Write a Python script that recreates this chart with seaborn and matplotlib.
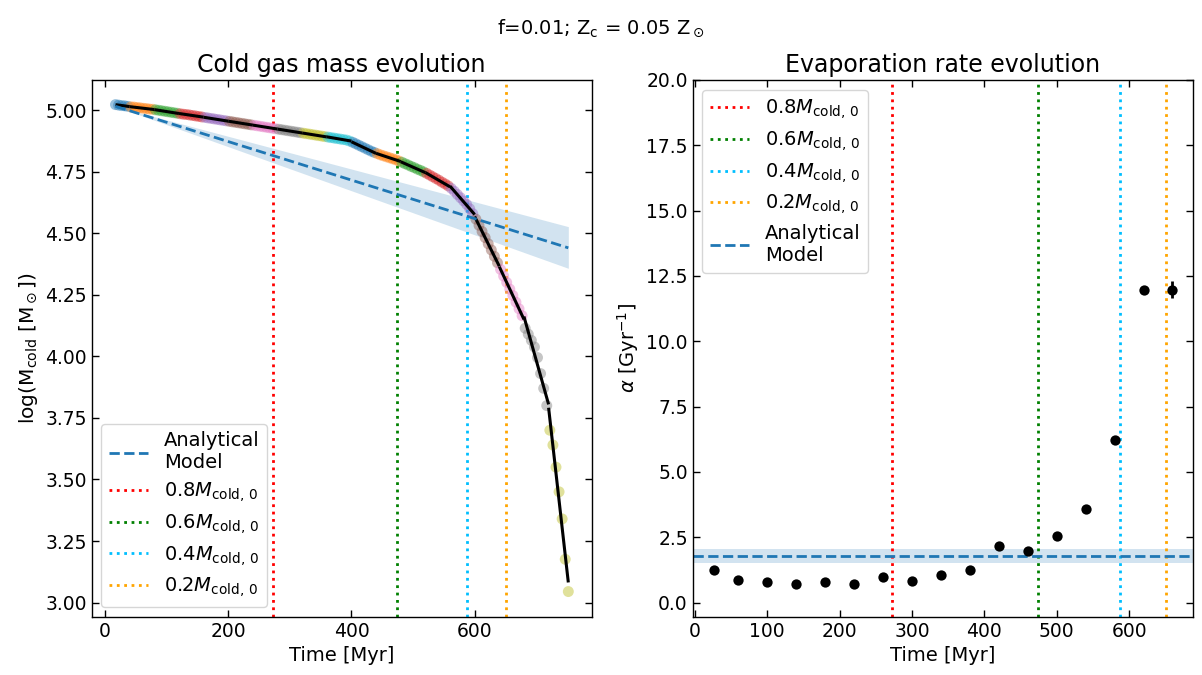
import numpy as np
import pandas as pd
import matplotlib
matplotlib.use("Agg")
import matplotlib.pyplot as plt
import seaborn as sns

# ---------------- data ----------------
time_myr = [17, 22, 27, 32, 37, 42, 47, 52, 57, 62, 67, 72, 77, 82, 87, 92, 97, 102,
            107, 112, 117, 122, 127, 132, 137, 142, 147, 152, 157, 162, 167, 172, 177,
            182, 187, 192, 197, 202, 207, 212, 217, 222, 227, 232, 237, 242, 247, 252,
            257, 262, 267, 272, 277, 282, 287, 292, 297, 302, 307, 312, 317, 322, 327,
            332, 337, 342, 347, 352, 357, 362, 367, 372, 377, 382, 387, 392, 397, 402,
            407, 412, 417, 422, 427, 432, 437, 442, 447, 452, 457, 462, 467, 472, 477,
            482, 487, 492, 497, 502, 507, 512, 517, 522, 527, 532, 537, 542, 547, 552,
            557, 562, 567, 572, 577, 582, 587, 592, 597, 602, 607, 612, 617, 622, 627,
            632, 637, 642, 647, 652, 657, 662, 667, 672, 677, 682, 687, 692, 697, 702,
            707, 712, 717, 722, 727, 732, 737, 742, 747, 752]
log_mcold = [5.022, 5.020, 5.018, 5.017, 5.015, 5.013, 5.012, 5.010, 5.009, 5.007,
             5.006, 5.004, 5.003, 5.001, 4.999, 4.997, 4.995, 4.993, 4.991, 4.989,
             4.987, 4.985, 4.983, 4.982, 4.980, 4.978, 4.976, 4.974, 4.972, 4.970,
             4.968, 4.966, 4.964, 4.962, 4.960, 4.958, 4.956, 4.954, 4.952, 4.950,
             4.948, 4.946, 4.944, 4.942, 4.940, 4.938, 4.936, 4.934, 4.932, 4.930,
             4.928, 4.926, 4.924, 4.922, 4.920, 4.918, 4.916, 4.914, 4.912, 4.910,
             4.908, 4.906, 4.904, 4.902, 4.900, 4.898, 4.896, 4.894, 4.892, 4.890,
             4.888, 4.886, 4.884, 4.882, 4.880, 4.878, 4.874, 4.869, 4.863, 4.857,
             4.851, 4.845, 4.839, 4.833, 4.828, 4.823, 4.818, 4.814, 4.810, 4.806,
             4.802, 4.798, 4.793, 4.788, 4.782, 4.777, 4.771, 4.766, 4.760, 4.755,
             4.749, 4.743, 4.736, 4.729, 4.722, 4.715, 4.707, 4.700, 4.692, 4.682,
             4.670, 4.657, 4.644, 4.631, 4.617, 4.599, 4.579, 4.557, 4.532, 4.507,
             4.482, 4.457, 4.432, 4.406, 4.380, 4.353, 4.326, 4.300, 4.273, 4.247,
             4.220, 4.193, 4.165, 4.114, 4.090, 4.065, 4.038, 3.995, 3.930, 3.870,
             3.800, 3.700, 3.640, 3.550, 3.450, 3.340, 3.176, 3.045]
window_myr = 40

alpha_time = [27, 60, 100, 140, 180, 220, 260, 300, 340, 380, 420, 460, 500, 540,
              580, 620, 660]
alpha_vals = [1.25, 0.88, 0.80, 0.72, 0.79, 0.72, 0.96, 0.82, 1.07, 1.24, 2.15, 1.99,
              2.56, 3.59, 6.23, 11.95, 11.98]
alpha_err = [0.04, 0.03, 0.03, 0.03, 0.03, 0.03, 0.04, 0.03, 0.04, 0.04, 0.05, 0.05,
             0.06, 0.08, 0.16, 0.10, 0.32]

alpha_model = 1.80
alpha_lo = 1.53
alpha_hi = 2.06
logm0_model = 5.015

frac_labels = ["0.8", "0.6", "0.4", "0.2"]
frac_times = [273, 474, 588, 651]
frac_colors = ["red", "green", "deepskyblue", "orange"]

# ---------------- style ----------------
sns.set_theme(style="ticks")
plt.rcParams.update({
    "font.family": ["DejaVu Sans"],
    "font.size": 14,
    "axes.labelsize": 14,
    "axes.titlesize": 17,
    "xtick.labelsize": 13.5,
    "ytick.labelsize": 13.5,
    "legend.fontsize": 14,
    "legend.labelspacing": 0.4,
    "text.color": "black",
    "axes.labelcolor": "black",
    "xtick.color": "black",
    "ytick.color": "black",
    "xtick.direction": "in",
    "ytick.direction": "in",
    "xtick.top": True,
    "ytick.right": True,
    "xtick.major.size": 5,
    "ytick.major.size": 5,
    "xtick.major.width": 1.0,
    "ytick.major.width": 1.0,
    "axes.linewidth": 1.0,
    "axes.edgecolor": "black",
    "mathtext.fontset": "dejavusans",
})

fig, axes = plt.subplots(1, 2, figsize=(12.02, 6.75), dpi=100)
fig.subplots_adjust(left=0.0763, right=0.9923, top=0.8815, bottom=0.0864, wspace=0.202)

tab10 = sns.color_palette("tab10", 10)
ln10 = np.log(10.0)
mlab = r"$M_\mathrm{cold,\,0}$"

# ---------------- left panel ----------------
ax = axes[0]
df = pd.DataFrame({"t": time_myr, "logm": log_mcold})
df["seg"] = (df["t"] // window_myr).astype(int)
pal = {s: tab10[s % 10] for s in df["seg"].unique()}
sns.scatterplot(data=df, x="t", y="logm", hue="seg", palette=pal, s=62, alpha=0.45,
                linewidth=0, legend=False, ax=ax, zorder=2)
t_first, t_last = df["t"].min(), df["t"].max()
for s, g in df.groupby("seg"):
    if len(g) < 2:
        continue
    coef = np.polyfit(g["t"], g["logm"], 1)
    tt = np.array([max(s * window_myr, t_first), min((s + 1) * window_myr, t_last)])
    ax.plot(tt, np.polyval(coef, tt), color="black", lw=2.2, zorder=3,
            solid_capstyle="butt")

tm = np.array([time_myr[0], time_myr[-1]], dtype=float)
dt_gyr = (tm - tm[0]) / 1000.0
ax.fill_between(tm, logm0_model - alpha_lo * dt_gyr / ln10,
                logm0_model - alpha_hi * dt_gyr / ln10,
                color="tab:blue", alpha=0.2, lw=0, zorder=1)
sns.lineplot(x=tm, y=logm0_model - alpha_model * dt_gyr / ln10, ax=ax,
             color="tab:blue", ls="--", lw=2, label="Analytical\nModel", zorder=4)
for lab, t, c in zip(frac_labels, frac_times, frac_colors):
    ax.axvline(t, color=c, ls=":", lw=2, label=lab + mlab, zorder=1.5)

ax.set_xlim(-21.6, 790)
ax.set_ylim(2.943, 5.122)
ax.set_xticks([0, 200, 400, 600])
ax.set_yticks(np.arange(3.0, 5.01, 0.25))
ax.yaxis.set_major_formatter(matplotlib.ticker.FormatStrFormatter("%.2f"))
ax.set_xlabel("Time [Myr]")
ax.set_ylabel(r"log(M$_\mathrm{cold}$ [M$_\odot$])", fontsize=14.5)
ax.set_title("Cold gas mass evolution")
ax.legend(loc="lower left")

# ---------------- right panel ----------------
ax = axes[1]
for lab, t, c in zip(frac_labels, frac_times, frac_colors):
    ax.axvline(t, color=c, ls=":", lw=2, label=lab + mlab, zorder=1.5)
ax.axhspan(alpha_lo, alpha_hi, color="tab:blue", alpha=0.2, lw=0, zorder=1)
ax.axhline(alpha_model, color="tab:blue", ls="--", lw=2, label="Analytical\nModel", zorder=2)
ax.errorbar(alpha_time, alpha_vals, yerr=alpha_err, fmt="none", ecolor="black",
            elinewidth=2, capsize=0, zorder=3)
sns.scatterplot(x=alpha_time, y=alpha_vals, color="black", s=55, linewidth=0,
                ax=ax, zorder=4, legend=False)

ax.set_xlim(-3, 688)
ax.set_ylim(-0.54, 20)
ax.set_xticks(np.arange(0, 601, 100))
ax.set_yticks(np.arange(0, 20.01, 2.5))
ax.yaxis.set_major_formatter(matplotlib.ticker.FormatStrFormatter("%.1f"))
ax.set_xlabel("Time [Myr]")
ax.set_ylabel(r"$\alpha$ [Gyr$^{-1}$]")
ax.set_title("Evaporation rate evolution")
ax.legend(loc="upper left")

fig.suptitle(r"f=0.01; Z$_\mathrm{c}$ = 0.05 Z$_\odot$", fontsize=14, y=0.975)

fig.savefig("out.png", dpi=100)
